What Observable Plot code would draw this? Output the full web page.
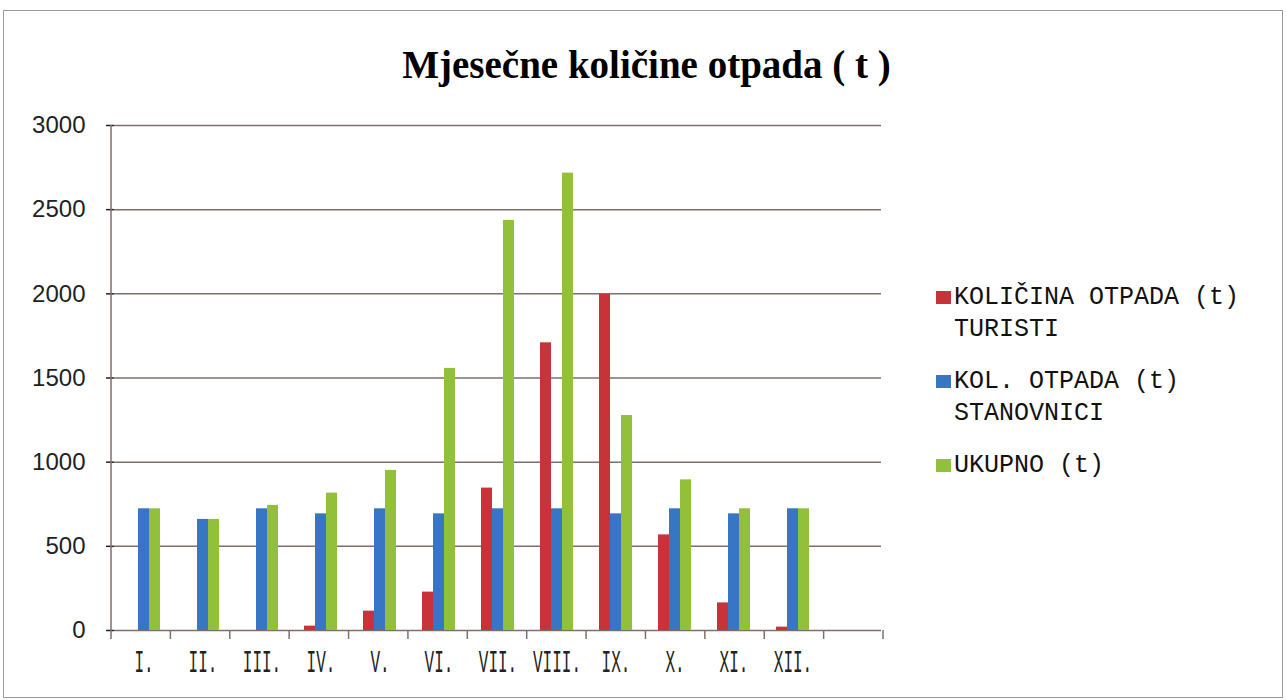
<!DOCTYPE html>
<html><head><meta charset="utf-8">
<script src="https://cdn.jsdelivr.net/npm/d3@7"></script>
<script src="https://cdn.jsdelivr.net/npm/@observablehq/plot@0.6"></script>
<style>
body{margin:0;background:#fff;}
#wrap{position:relative;width:1287px;height:700px;overflow:hidden;background:#fff;}
#frame{position:absolute;left:3px;top:10px;width:1280px;height:688px;border:1px solid #9a9a9a;box-sizing:border-box;}
#title{position:absolute;left:0;width:1293px;top:45px;text-align:center;font-family:"Liberation Serif";font-weight:bold;font-size:39px;line-height:40px;color:#000;white-space:nowrap;}
#chart{position:absolute;left:0;top:100px;}
#legend{position:absolute;left:936px;top:282px;font-family:"Liberation Mono";font-size:25px;line-height:32px;color:#111;}
.item{display:flex;align-items:flex-start;margin-bottom:20px;}
.sw{width:15px;height:13px;margin-top:9px;margin-right:3px;flex:none;}
.lab{width:300px;}
[aria-label="fx-axis tick label"] text{font-family:"Liberation Mono";font-size:16px;}
[aria-label="y-axis tick"]{stroke:#7f6f6c;stroke-width:1.5px;}
</style></head>
<body>
<div id="wrap">
  <div id="frame"></div>
  <div id="title">Mjesečne količine otpada ( t )</div>
  <div id="chart"></div>
  <div id="legend"></div>
</div>
<script>
const months = ["I.","II.","III.","IV.","V.","VI.","VII.","VIII.","IX.","X.","XI.","XII."];
const emptySlot = "";
const seriesNames = ["KOLIČINA OTPADA (t) TURISTI","KOL. OTPADA (t) STANOVNICI","UKUPNO (t)"];
const turisti    = [0,0,0,26,115,228,846,1709,1996,568,164,20];
const stanovnici = [723,660,723,693,723,693,723,723,693,723,693,723];
const ukupno     = [723,660,743,816,951,1557,2436,2717,1277,895,723,723];
const yTicks = [0,500,1000,1500,2000,2500,3000];
const colors = ["#c8333a","#3676c4","#93c03b"];
const gridColor = "#7f6f6c";

const slots = [...months, emptySlot];
const seriesValues = [turisti, stanovnici, ukupno];
const bars = months.flatMap((m,i)=>seriesNames.map((s,k)=>({month:m, series:s, value:seriesValues[k][i]})));
const grid = slots.flatMap(m=>yTicks.map(v=>({month:m, value:v})));

const chart = Plot.plot({
  width: 900, height: 600,
  marginLeft:111, marginRight:17, marginTop:25, marginBottom:70,
  style:{fontFamily:"Liberation Sans", fontSize:"24px", color:"#222", background:"transparent"},
  fx:{domain:slots, padding:0, label:null, tickSize:0, tickPadding:19},
  x:{domain:seriesNames, paddingInner:0, paddingOuter:0.975, axis:null},
  y:{domain:[0,3000], ticks:yTicks, tickSize:8, tickPadding:21, label:null, tickFormat:d=>String(d)},
  color:{domain:seriesNames, range:colors},
  marks:[
    Plot.ruleY(grid,{fx:"month", y:"value", stroke:gridColor, strokeWidth:1.5}),
    Plot.barY(bars,{fx:"month", x:"series", y:"value", fill:"series"})
  ]
});
document.getElementById("chart").appendChild(chart);

// vertically stretch month labels
chart.querySelectorAll('[aria-label="fx-axis tick label"] text').forEach(t=>{
  const tr = t.getAttribute("transform");
  if (tr) t.setAttribute("transform", tr + " scale(1,2)");
  else {
    const x = t.getAttribute("x")||0, y = t.getAttribute("y")||0;
    t.removeAttribute("x"); t.removeAttribute("y");
    t.setAttribute("transform", `translate(${x},${y}) scale(1,2)`);
  }
});

// category boundary ticks and y axis line from the scales
const fx = chart.scale("fx"), ys = chart.scale("y");
const step = (fx.range[1]-fx.range[0])/slots.length;
const svg = d3.select(chart);
const g = svg.append("g").attr("stroke",gridColor).attr("stroke-width",1.5);
for (let i=0;i<=slots.length;i++){
  const x = fx.range[0]+i*step;
  g.append("line").attr("x1",x).attr("x2",x).attr("y1",ys.range[0]).attr("y2",ys.range[0]+9);
}
g.append("line").attr("x1",fx.range[0]).attr("x2",fx.range[0]).attr("y1",ys.range[0]).attr("y2",ys.range[1]);

// legend
const legend = d3.select("#legend");
seriesNames.forEach((s,k)=>{
  const it = legend.append("div").attr("class","item");
  it.append("div").attr("class","sw").style("background",colors[k]);
  it.append("div").attr("class","lab").text(s);
});
</script>
</body></html>
